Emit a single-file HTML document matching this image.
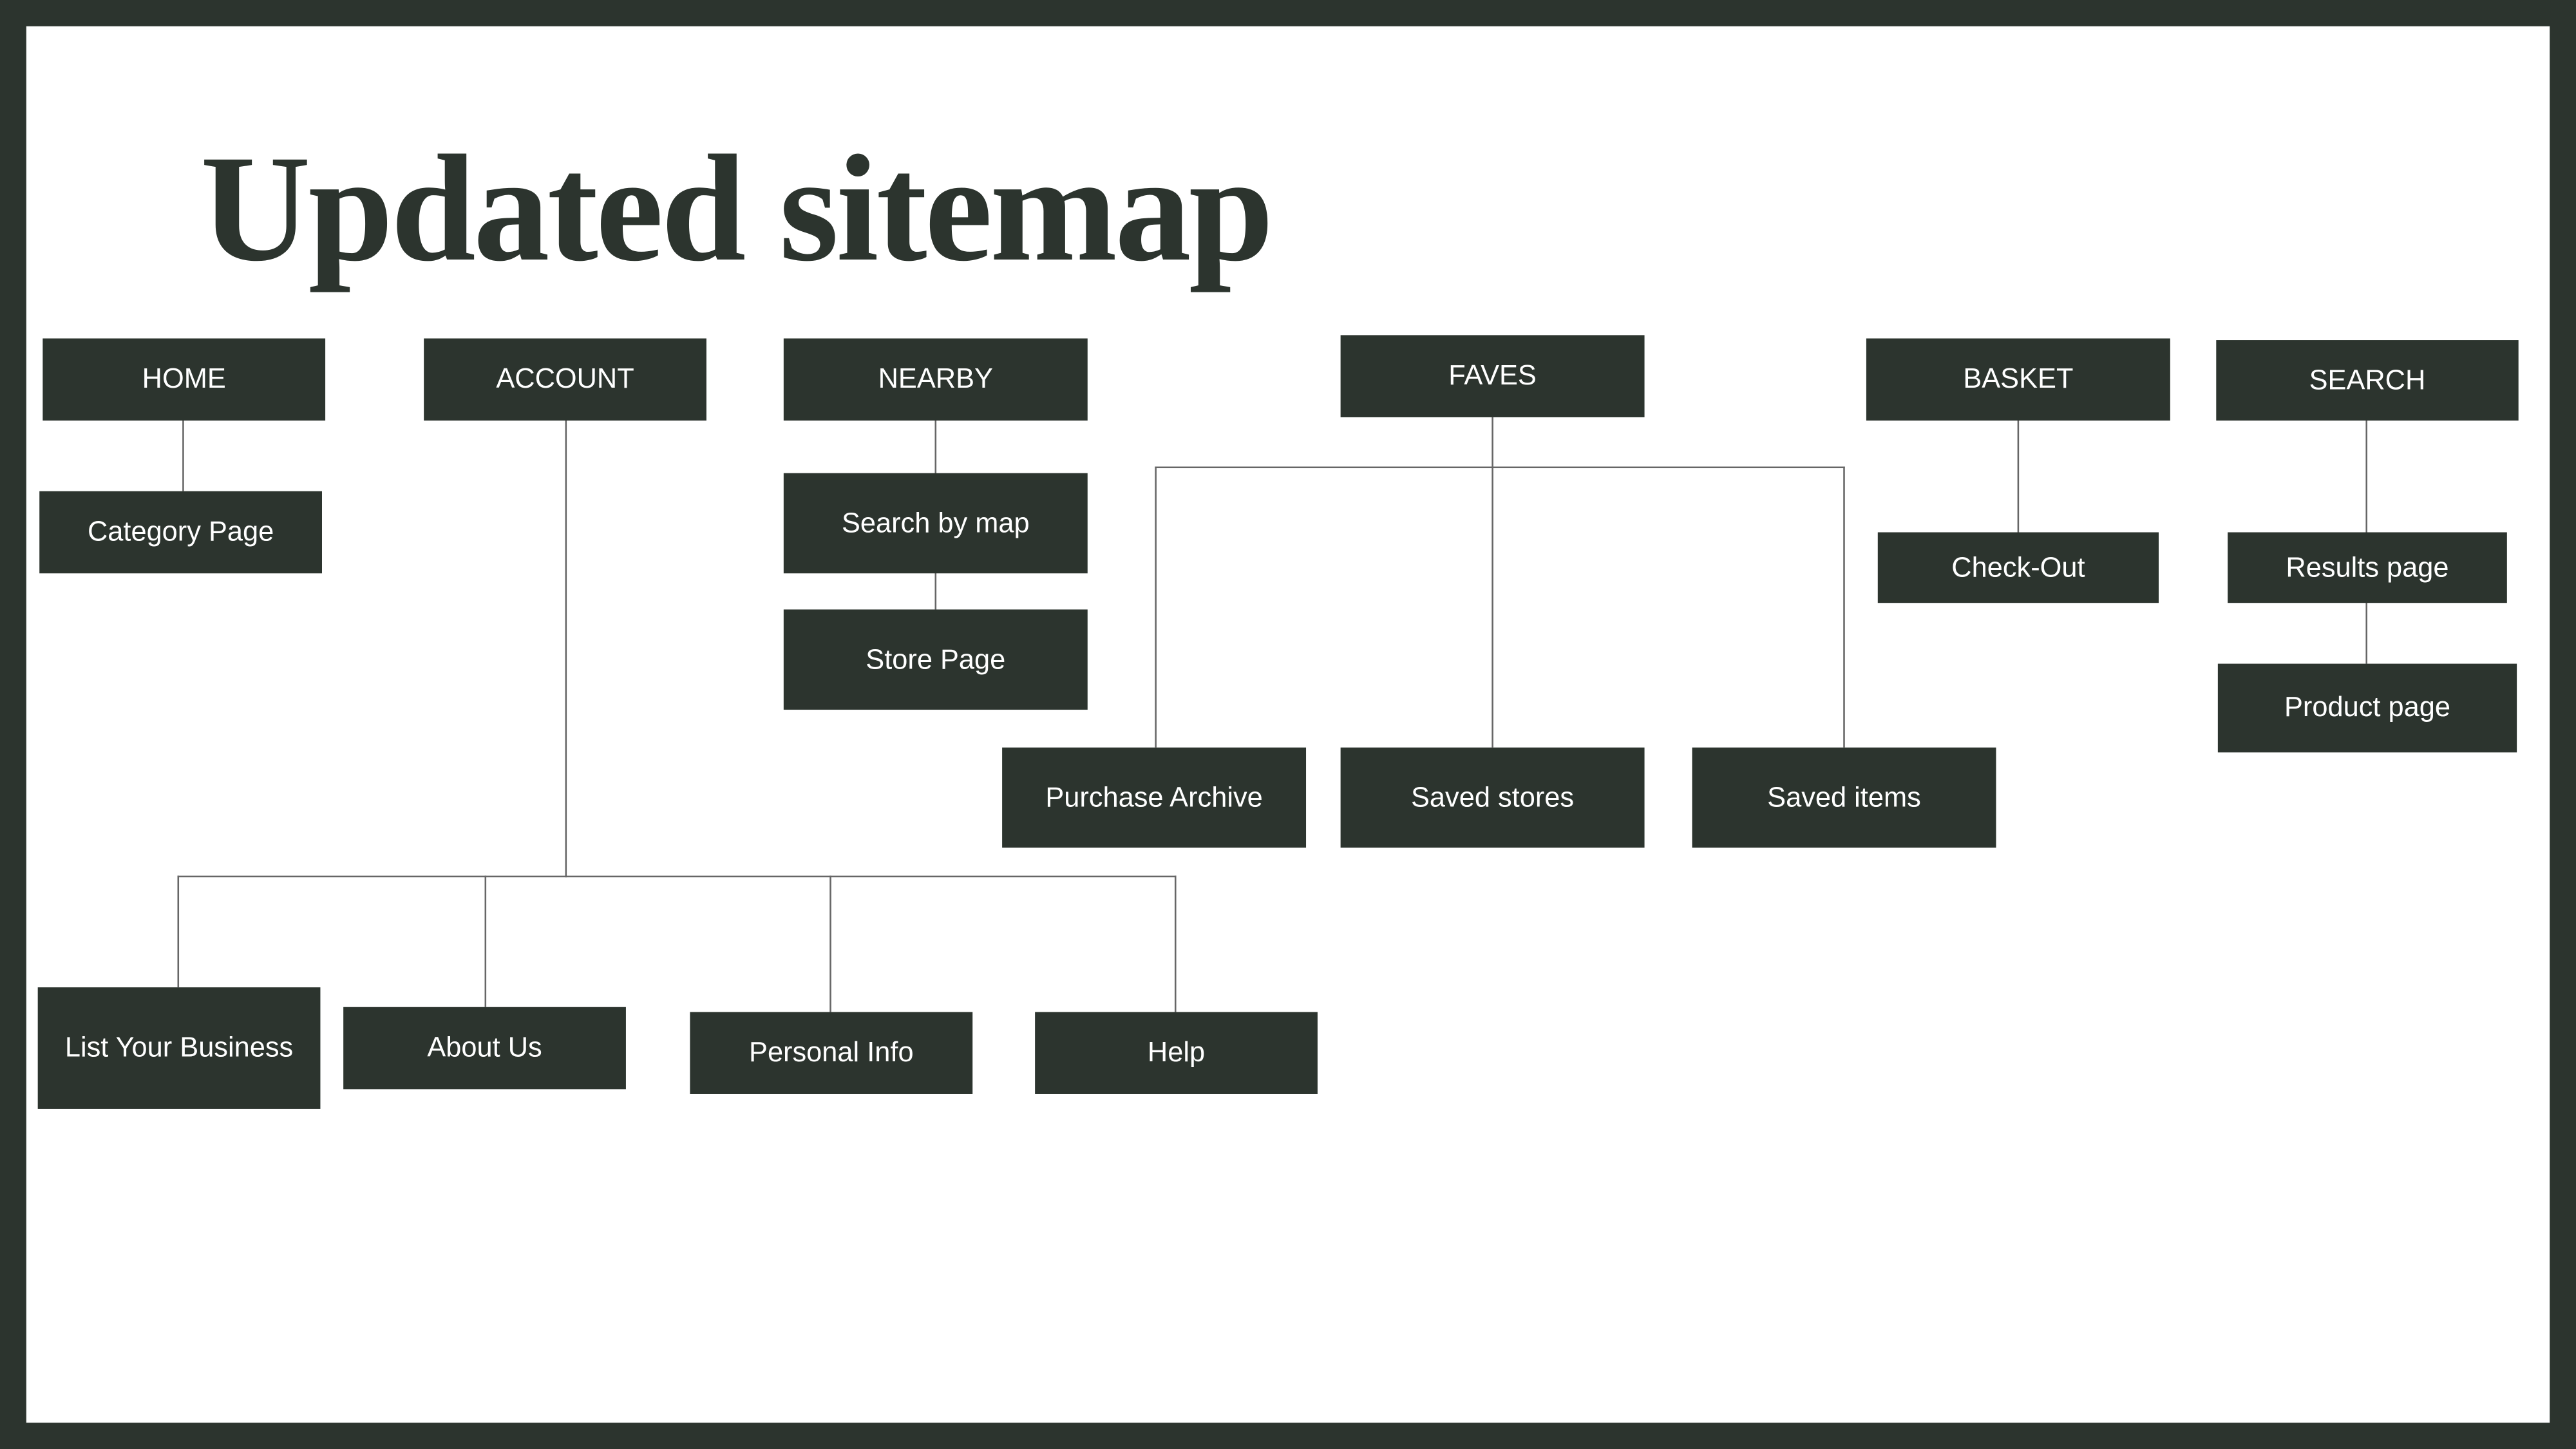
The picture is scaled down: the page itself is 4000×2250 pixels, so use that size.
<!DOCTYPE html>
<html><head><meta charset="utf-8"><style>
html,body{margin:0;padding:0;background:#2c342e;}
#w{width:4000px;height:2250px;overflow:hidden;position:relative;background:#2c342e;}
#s{position:absolute;left:0;top:0;width:1568px;height:882px;transform:scale(2.5510);transform-origin:0 0;}
#p{position:absolute;left:16px;top:16px;width:1536px;height:850px;background:#fff;}
.b{position:absolute;background:#2c342e;color:#fff;font-family:"Liberation Sans",sans-serif;font-size:17px;display:flex;align-items:center;justify-content:center;}
.l{position:absolute;background:#666;}
h1{position:absolute;left:122px;top:74px;margin:0;font-family:"Liberation Serif",serif;font-weight:bold;font-size:93px;color:#2c342e;letter-spacing:-1.5px;white-space:nowrap;}
</style></head><body><div id="w"><div id="s"><div id="p"></div>
<h1>Updated sitemap</h1>
<div class="l" style="left:111px;top:256px;width:1px;height:43px"></div>
<div class="l" style="left:344px;top:256px;width:1px;height:278px"></div>
<div class="l" style="left:108px;top:533px;width:608px;height:1px"></div>
<div class="l" style="left:108px;top:533px;width:1px;height:68px"></div>
<div class="l" style="left:295px;top:533px;width:1px;height:80px"></div>
<div class="l" style="left:505px;top:533px;width:1px;height:83px"></div>
<div class="l" style="left:715px;top:533px;width:1px;height:83px"></div>
<div class="l" style="left:569px;top:256px;width:1px;height:115px"></div>
<div class="l" style="left:908px;top:254px;width:1px;height:201px"></div>
<div class="l" style="left:703px;top:284px;width:420px;height:1px"></div>
<div class="l" style="left:703px;top:284px;width:1px;height:171px"></div>
<div class="l" style="left:1122px;top:284px;width:1px;height:171px"></div>
<div class="l" style="left:1228px;top:256px;width:1px;height:68px"></div>
<div class="l" style="left:1440px;top:256px;width:1px;height:148px"></div>
<div class="b" style="left:26px;top:206px;width:172px;height:50px">HOME</div>
<div class="b" style="left:258px;top:206px;width:172px;height:50px">ACCOUNT</div>
<div class="b" style="left:477px;top:206px;width:185px;height:50px">NEARBY</div>
<div class="b" style="left:816px;top:204px;width:185px;height:50px">FAVES</div>
<div class="b" style="left:1136px;top:206px;width:185px;height:50px">BASKET</div>
<div class="b" style="left:1349px;top:207px;width:184px;height:49px">SEARCH</div>
<div class="b" style="left:24px;top:299px;width:172px;height:50px">Category Page</div>
<div class="b" style="left:477px;top:288px;width:185px;height:61px">Search by map</div>
<div class="b" style="left:477px;top:371px;width:185px;height:61px">Store Page</div>
<div class="b" style="left:610px;top:455px;width:185px;height:61px">Purchase Archive</div>
<div class="b" style="left:816px;top:455px;width:185px;height:61px">Saved stores</div>
<div class="b" style="left:1030px;top:455px;width:185px;height:61px">Saved items</div>
<div class="b" style="left:1143px;top:324px;width:171px;height:43px">Check-Out</div>
<div class="b" style="left:1356px;top:324px;width:170px;height:43px">Results page</div>
<div class="b" style="left:1350px;top:404px;width:182px;height:54px">Product page</div>
<div class="b" style="left:23px;top:601px;width:172px;height:74px">List Your Business</div>
<div class="b" style="left:209px;top:613px;width:172px;height:50px">About Us</div>
<div class="b" style="left:420px;top:616px;width:172px;height:50px">Personal Info</div>
<div class="b" style="left:630px;top:616px;width:172px;height:50px">Help</div>
</div></div></body></html>
